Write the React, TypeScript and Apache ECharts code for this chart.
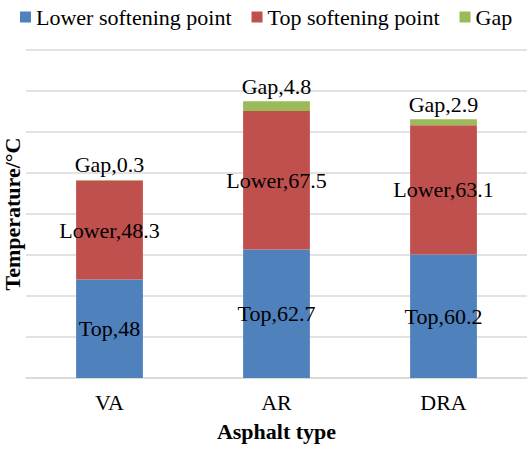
import { useEffect, useRef } from "react";
import * as echarts from "echarts";

const categories = ["VA", "AR", "DRA"];
const lowerSoftening = [48, 62.7, 60.2];
const topSoftening = [48.3, 67.5, 63.1];
const gapValues = [0.3, 4.8, 2.9];

const FONT = "Liberation Serif";

export default function App() {
  const ref = useRef<HTMLDivElement | null>(null);

  useEffect(() => {
    document.body.style.margin = "0";
    if (!ref.current) {
      return;
    }
    const chart = echarts.init(ref.current, undefined, { renderer: "svg" });

    const labelStyle = {
      color: "#000",
      fontFamily: FONT,
      fontSize: 22
    };

    chart.setOption({
      animation: false,
      backgroundColor: "#fff",
      color: ["#4f81bd", "#c0504d", "#9bbb59"],
      textStyle: { fontFamily: FONT },
      grid: {
        bottom: 71,
        left: 26,
        right: 4,
        top: 50
      },
      legend: {
        icon: "rect",
        itemGap: 20,
        itemHeight: 11,
        itemWidth: 11,
        left: 15,
        textStyle: {
          color: "#000",
          fontFamily: FONT,
          fontSize: 22
        },
        top: 1
      },
      xAxis: {
        axisLabel: {
          color: "#000",
          fontFamily: FONT,
          fontSize: 22,
          margin: 13
        },
        axisLine: { lineStyle: { color: "#d9d9d9", width: 1.5 } },
        axisTick: { show: false },
        data: categories,
        name: "Asphalt type",
        nameGap: 42,
        nameLocation: "middle",
        nameTextStyle: {
          color: "#000",
          fontFamily: FONT,
          fontSize: 22,
          fontWeight: "bold"
        },
        type: "category"
      },
      yAxis: {
        axisLabel: { show: false },
        axisLine: { show: false },
        axisTick: { show: false },
        interval: 20,
        max: 160,
        min: 0,
        splitLine: { lineStyle: { color: "#d9d9d9", width: 1.5 } },
        type: "value"
      },
      graphic: [
        {
          rotation: Math.PI / 2,
          style: {
            align: "center",
            fill: "#000",
            font: `bold 22px "${FONT}"`,
            text: "Temperature/°C",
            verticalAlign: "middle"
          },
          type: "text",
          x: 12,
          y: 214
        }
      ],
      series: [
        {
          barWidth: "40%",
          data: lowerSoftening,
          label: {
            ...labelStyle,
            formatter: "Top,{c}",
            position: "inside",
            show: true
          },
          name: "Lower softening point",
          stack: "total",
          type: "bar"
        },
        {
          data: topSoftening,
          label: {
            ...labelStyle,
            formatter: "Lower,{c}",
            position: "inside",
            show: true
          },
          name: "Top softening point",
          stack: "total",
          type: "bar"
        },
        {
          data: gapValues,
          label: {
            ...labelStyle,
            distance: 4,
            formatter: "Gap,{c}",
            position: "top",
            show: true
          },
          name: "Gap",
          stack: "total",
          type: "bar"
        }
      ]
    });

    return () => {
      chart.dispose();
    };
  }, []);

  return <div ref={ref} style={{ height: 449, width: 531 }} />;
}
